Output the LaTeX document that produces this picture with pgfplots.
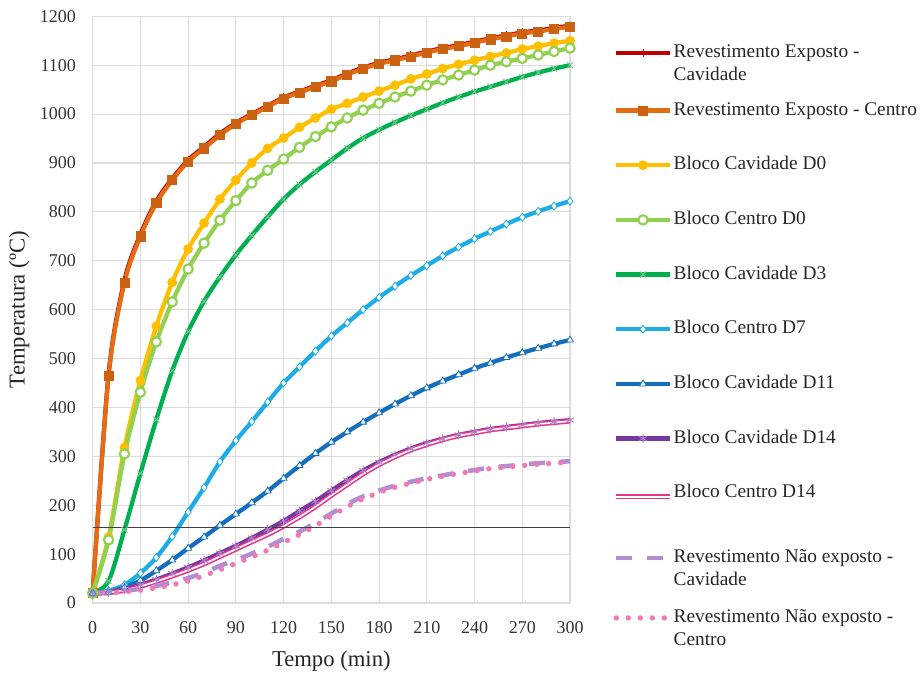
\documentclass[border=0pt]{standalone}
\usepackage{fontspec}
\setmainfont{Liberation Serif}
\usepackage{pgfplots}
\pgfplotsset{compat=1.18}
\usetikzlibrary{plotmarks}
\definecolor{cRed}{RGB}{192,0,0}
\definecolor{cOrange}{RGB}{228,108,20}
\definecolor{cYellow}{RGB}{255,190,0}
\definecolor{cLGreen}{RGB}{146,208,80}
\definecolor{cGreen}{RGB}{0,176,80}
\definecolor{cMarkGreen}{RGB}{120,200,140}
\definecolor{cLBlue}{RGB}{30,172,230}
\definecolor{cDBlue}{RGB}{20,110,190}
\definecolor{cPurple}{RGB}{118,56,160}
\definecolor{cMarkPurple}{RGB}{175,130,200}
\definecolor{cPink}{RGB}{232,50,140}
\definecolor{cLPurple}{RGB}{180,140,210}
\definecolor{cLPink}{RGB}{240,120,180}
\definecolor{cGrid}{RGB}{220,220,220}
\newcommand{\two}[2]{\begin{tabular}[t]{@{}l@{}}#1\\#2\end{tabular}}
\begin{document}
\begin{tikzpicture}
\path[use as bounding box] (0,0) rectangle (691.5pt,504.75pt);
\begin{axis}[
  at={(69.5pt,52.5pt)}, anchor=south west,
  scale only axis, width=358pt, height=440pt,
  xmin=0, xmax=300, ymin=0, ymax=1200,
  xtick={0,30,...,300}, ytick={0,100,...,1200},
  grid=major, major grid style={cGrid, line width=0.8pt},
  axis line style={cGrid, line width=0.8pt},
  major tick length=0pt,
  tick label style={font=\fontsize{13.5}{16}\selectfont, text=black!80},
  /pgf/number format/assume math mode=true,
  /pgf/number format/1000 sep={},
  xticklabel style={yshift=-10pt},
  yticklabel style={xshift=-9pt},
  xlabel={Tempo (min)}, ylabel={Temperatura (ºC)},
  label style={font=\fontsize{17}{20}\selectfont, text=black!85},
  xlabel style={yshift=-6pt},
  ylabel style={yshift=1pt},
  clip=false,
  legend cell align=left,
  legend style={at={(1.091,0.958)}, anchor=north west, draw=none, fill=none,
    font=\fontsize{14.5}{17}\selectfont, text=black!85,
    row sep=27pt, inner sep=0pt,
    nodes={inner sep=1pt, text height=9.5pt, text depth=2.5pt}},
  legend image code/.code={
    \draw[#1, mark repeat=2, mark phase=2] plot coordinates {(0pt,0pt) (20pt,0pt) (40pt,0pt)};
  },
  every axis plot/.append style={smooth, tension=0.5},
]
% Revestimento Exposto - Cavidade
\addplot[cRed, line width=3.2pt, mark=|, mark size=3pt, mark options={line width=0.8pt, cRed}] coordinates {
(0,20)(10,468)(20,660)(30,754)(40,822)(50,868)(60,906)(70,933)(80,960)(90,982)(100,1000)(110,1017)(120,1034)(130,1046)(140,1058)(150,1069)(160,1083)(170,1095)(180,1105)(190,1112)(200,1120)(210,1128)(220,1135)(230,1141)(240,1148)(250,1155)(260,1161)(270,1167)(280,1171)(290,1176)(300,1181)};
\addlegendentry[text height=11.5pt, text depth=4.5pt]{\two{Revestimento Exposto -}{Cavidade}}
% Revestimento Exposto - Centro
\addplot[cOrange, line width=3.2pt, mark=square*, mark size=3.4pt, mark options={fill=cOrange!90!black, draw=cOrange!90!black, line width=0.5pt}] coordinates {
(0,20)(10,464)(20,655)(30,750)(40,818)(50,865)(60,903)(70,930)(80,957)(90,980)(100,998)(110,1015)(120,1032)(130,1044)(140,1056)(150,1067)(160,1081)(170,1093)(180,1103)(190,1110)(200,1118)(210,1126)(220,1133)(230,1139)(240,1146)(250,1153)(260,1159)(270,1165)(280,1169)(290,1174)(300,1179)};
\addlegendentry{Revestimento Exposto - Centro}
% Bloco Cavidade D0
\addplot[cYellow, line width=3.2pt, mark=*, mark size=3.4pt, mark options={fill=cYellow, draw=cYellow, line width=0.5pt}] coordinates {
(0,20)(10,135)(20,318)(30,455)(40,566)(50,656)(60,724)(70,777)(80,826)(90,865)(100,900)(110,930)(120,951)(130,973)(140,992)(150,1010)(160,1022)(170,1035)(180,1047)(190,1059)(200,1072)(210,1082)(220,1093)(230,1102)(240,1110)(250,1118)(260,1125)(270,1133)(280,1139)(290,1145)(300,1150)};
\addlegendentry{Bloco Cavidade D0}
% Bloco Centro D0
\addplot[cLGreen, line width=3.2pt, mark=*, mark size=3.5pt, mark options={fill=white, draw=cLGreen, line width=1.6pt}] coordinates {
(0,20)(10,129)(20,305)(30,431)(40,534)(50,616)(60,683)(70,736)(80,783)(90,823)(100,859)(110,885)(120,908)(130,932)(140,954)(150,974)(160,992)(170,1008)(180,1022)(190,1035)(200,1047)(210,1059)(220,1070)(230,1080)(240,1090)(250,1100)(260,1107)(270,1114)(280,1121)(290,1128)(300,1135)};
\addlegendentry{Bloco Centro D0}
% Bloco Cavidade D3
\addplot[cGreen, line width=3.2pt, mark=x, mark size=3.2pt, mark options={draw=cMarkGreen, line width=0.7pt}] coordinates {
(0,20)(10,45)(20,150)(30,265)(40,375)(50,475)(60,555)(70,617)(80,667)(90,712)(100,752)(110,790)(120,826)(130,856)(140,882)(150,906)(160,930)(170,951)(180,968)(190,983)(200,997)(210,1010)(220,1023)(230,1035)(240,1046)(250,1056)(260,1066)(270,1076)(280,1085)(290,1093)(300,1100)};
\addlegendentry{Bloco Cavidade D3}
% Bloco Centro D7
\addplot[cLBlue, line width=3.2pt, mark=diamond*, mark size=3pt, mark options={fill=white, draw=cLBlue, line width=0.6pt}] coordinates {
(0,20)(10,25)(20,37)(30,61)(40,93)(50,136)(60,186)(70,236)(80,289)(90,332)(100,371)(110,411)(120,450)(130,483)(140,515)(150,546)(160,573)(170,600)(180,625)(190,648)(200,670)(210,690)(220,710)(230,728)(240,745)(250,760)(260,775)(270,789)(280,801)(290,812)(300,822)};
\addlegendentry{Bloco Centro D7}
% Bloco Cavidade D11
\addplot[cDBlue, line width=3.2pt, mark=triangle*, mark size=3pt, mark options={fill=white, draw=cDBlue, line width=0.6pt}] coordinates {
(0,20)(10,22)(20,32)(30,46)(40,66)(50,88)(60,112)(70,135)(80,159)(90,182)(100,205)(110,229)(120,255)(130,281)(140,306)(150,329)(160,350)(170,370)(180,389)(190,407)(200,424)(210,440)(220,454)(230,467)(240,480)(250,491)(260,502)(270,512)(280,521)(290,530)(300,538)};
\addlegendentry{Bloco Cavidade D11}
% Bloco Cavidade D14
\addplot[cPurple, line width=3.2pt, mark=asterisk, mark size=3.4pt, mark options={draw=cMarkPurple, line width=0.7pt}] coordinates {
(0,20)(10,22)(20,28)(30,37)(40,48)(50,60)(60,73)(70,87)(80,102)(90,117)(100,133)(110,150)(120,168)(130,188)(140,208)(150,230)(160,251)(170,271)(180,288)(190,303)(200,316)(210,327)(220,336)(230,344)(240,350)(250,356)(260,360)(270,364)(280,368)(290,371)(300,374)};
\addlegendentry{Bloco Cavidade D14}
% Bloco Centro D14
\addplot[cPink, line width=1.2pt, double=white, double distance=1.3pt] coordinates {
(0,20)(10,21)(20,26)(30,34)(40,44)(50,55)(60,67)(70,80)(80,95)(90,110)(100,125)(110,140)(120,157)(130,176)(140,197)(150,220)(160,242)(170,264)(180,283)(190,299)(200,313)(210,324)(220,334)(230,342)(240,348)(250,354)(260,358)(270,362)(280,366)(290,369)(300,372)};
\addlegendentry[text depth=8pt]{Bloco Centro D14}
% Revestimento Nao exposto - Cavidade
\addplot[cLPurple, line width=3.4pt, dash pattern=on 12pt off 11pt] coordinates {
(0,20)(10,22)(20,25)(30,29)(40,35)(50,42)(60,51)(70,62)(80,76)(90,88)(100,101)(110,115)(120,131)(130,146)(140,164)(150,183)(160,202)(170,218)(180,230)(190,240)(200,248)(210,255)(220,261)(230,267)(240,272)(250,277)(260,280)(270,283)(280,286)(290,288)(300,290)};
\addlegendentry[text height=11.5pt, text depth=4.5pt]{\two{Revestimento Não exposto -}{Cavidade}}
% Revestimento Nao exposto - Centro
\addplot[cLPink, line width=4pt, line cap=round, dash pattern=on 0pt off 9pt] coordinates {
(0,20)(10,21)(20,23)(30,26)(40,31)(50,37)(60,45)(70,56)(80,68)(90,81)(100,94)(110,108)(120,124)(130,140)(140,158)(150,178)(160,197)(170,213)(180,226)(190,237)(200,245)(210,253)(220,259)(230,265)(240,270)(250,275)(260,278)(270,281)(280,284)(290,286)(300,288)};
\addlegendentry[text height=11.5pt, text depth=4.5pt]{\two{Revestimento Não exposto -}{Centro}}
% reference line
\addplot[black!75, line width=0.8pt, forget plot, sharp plot] coordinates {(0,155)(300,155)};
\end{axis}
\end{tikzpicture}
\end{document}
